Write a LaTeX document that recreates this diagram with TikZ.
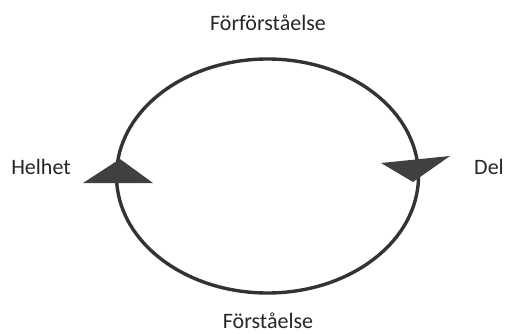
\documentclass[tikz,border=0pt]{standalone}
\usepackage{fontspec}
\setmainfont{Carlito}
\begin{document}
\begin{tikzpicture}[x=1pt,y=-1pt,
  lbl/.style={font=\fontsize{22}{26}\selectfont, text=black!85, inner sep=0pt, anchor=base},
  ring/.style={line width=3.4pt, draw=black!80},
  tri/.style={fill=black!75, draw=none}]
\useasboundingbox (0,0) rectangle (506,334);
\draw[ring] (267.5,176) ellipse [x radius=151, y radius=117];
\fill[tri] (83,183) -- (120,159) -- (153,183) -- cycle;
\fill[tri] (381,163) -- (450,156) -- (413,182) -- cycle;
\node[lbl] (top) at (268,31) {Förförståelse};
\node[lbl] (bottom) at (268,328) {Förståelse};
\node[lbl] (left) at (41,175) {Helhet};
\node[lbl] (right) at (489,175) {Del};
\end{tikzpicture}
\end{document}
